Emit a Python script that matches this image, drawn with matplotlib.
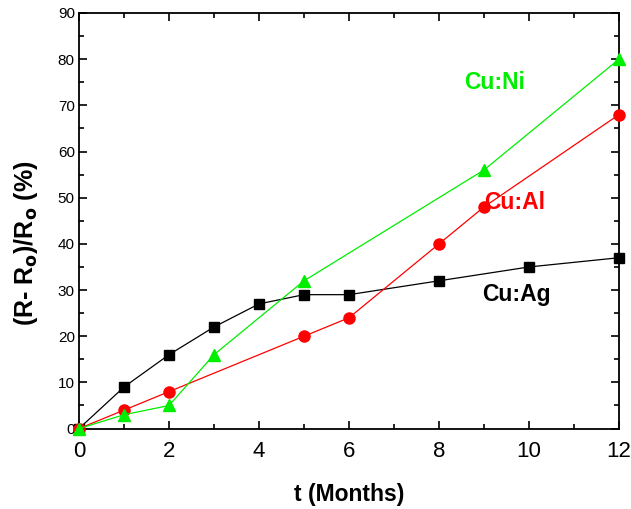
"""Resistance change vs time for Cu alloy films."""
import matplotlib
matplotlib.use("Agg")
import matplotlib.pyplot as plt
from matplotlib.ticker import MultipleLocator

plt.rcParams["font.family"] = ["Liberation Sans", "DejaVu Sans"]

# Cu:Ag (black squares)
ag_t = [0, 1, 2, 3, 4, 5, 6, 8, 10, 12]
ag_r = [0, 9, 16, 22, 27, 29, 29, 32, 35, 37]

# Cu:Al (red circles)
al_t = [0, 1, 2, 5, 6, 8, 9, 12]
al_r = [0, 4, 8, 20, 24, 40, 48, 68]

# Cu:Ni (green triangles)
ni_t = [0, 1, 2, 3, 5, 9, 12]
ni_r = [0, 3, 5, 16, 32, 56, 80]

fig = plt.figure(figsize=(6.31, 5.09), dpi=100)
ax = fig.add_axes([0.1252, 0.158, 0.8558, 0.8165])

ax.plot(ag_t, ag_r, color="black", lw=0.9, marker="s", ms=7.5, clip_on=False, zorder=3)
ax.plot(al_t, al_r, color="#ff0000", lw=0.9, marker="o", ms=8, clip_on=False, zorder=3)
ax.plot(ni_t, ni_r, color="#00ee00", lw=0.9, marker="^", ms=8.5, clip_on=False, zorder=4)

ax.text(9.0, 49, "Cu:Al", color="#ff0000", fontsize=16.5, fontweight="bold", va="center")
ax.text(8.55, 75, "Cu:Ni", color="#00ee00", fontsize=16.5, fontweight="bold", va="center")
ax.text(8.95, 29, "Cu:Ag", color="black", fontsize=16.5, fontweight="bold", va="center")

ax.set_xlim(0, 12)
ax.set_ylim(0, 90)
ax.xaxis.set_major_locator(MultipleLocator(2))
ax.xaxis.set_minor_locator(MultipleLocator(1))
ax.yaxis.set_major_locator(MultipleLocator(10))
ax.yaxis.set_minor_locator(MultipleLocator(5))

ax.tick_params(which="both", direction="in", top=True, right=True, width=1.2)
ax.tick_params(which="major", length=6)
ax.tick_params(which="minor", length=3.5)
ax.tick_params(axis="x", which="major", labelsize=16, pad=9)
ax.tick_params(axis="y", which="major", labelsize=11, pad=3)
for sp in ax.spines.values():
    sp.set_linewidth(1.3)

ax.set_xlabel("t (Months)", fontsize=16.5, fontweight="bold", labelpad=15)
ax.set_ylabel("(R- R$_\\mathbf{o}$)/R$_\\mathbf{o}$ (%)", fontsize=18, fontweight="bold")
ax.yaxis.set_label_coords(-0.072, 0.445)

fig.savefig("out.png", dpi=100)
